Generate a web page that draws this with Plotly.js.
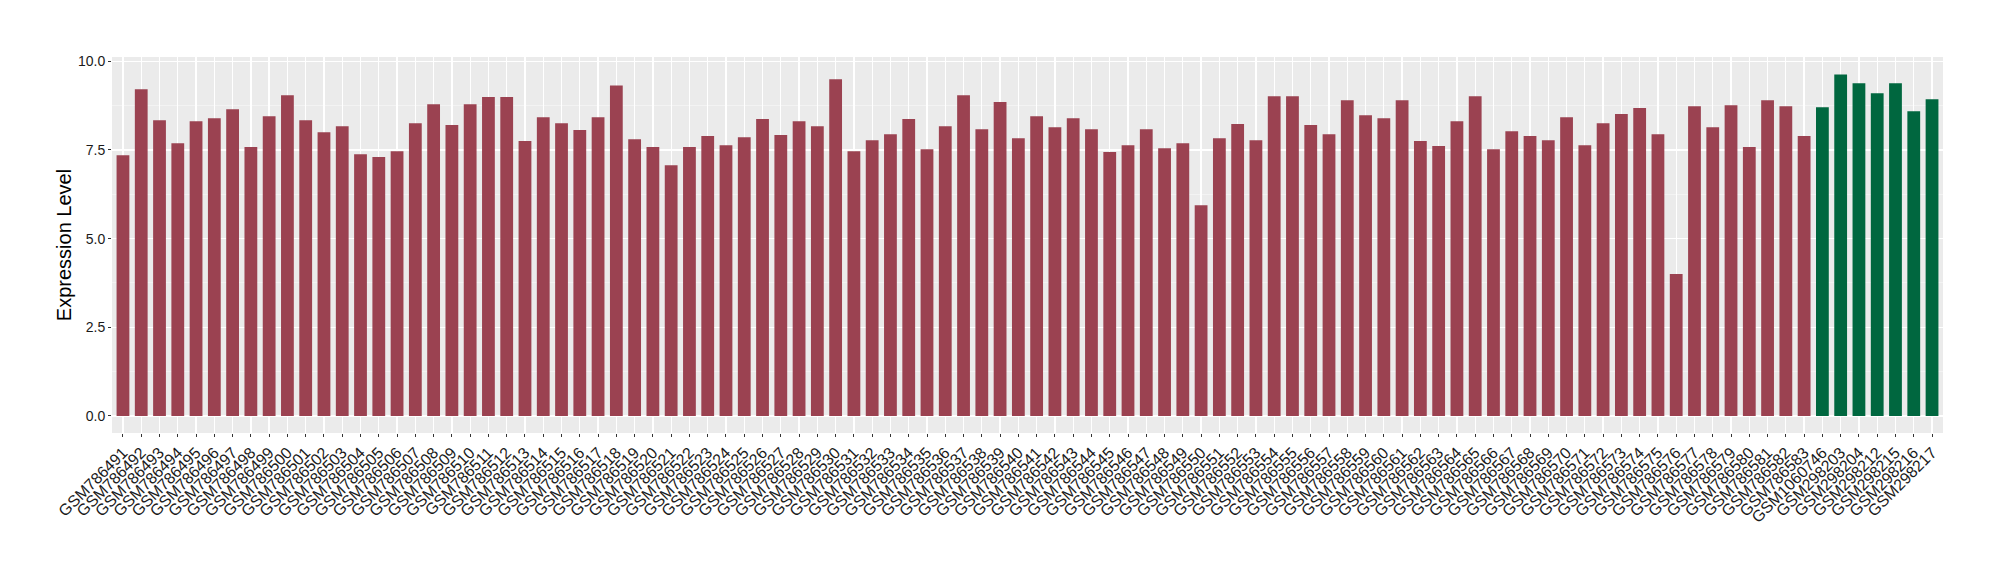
<!DOCTYPE html>
<html>
<head>
<meta charset="utf-8">
<script src="https://cdn.plot.ly/plotly-3.0.1.min.js"></script>
<style>html,body{margin:0;padding:0;background:#fff;}#chart{width:2000px;height:580px;}</style>
</head>
<body>
<div id="chart"></div>
<script>
const samples = [
  "GSM786491","GSM786492","GSM786493","GSM786494","GSM786495","GSM786496","GSM786497","GSM786498","GSM786499","GSM786500",
  "GSM786501","GSM786502","GSM786503","GSM786504","GSM786505","GSM786506","GSM786507","GSM786508","GSM786509","GSM786510",
  "GSM786511","GSM786512","GSM786513","GSM786514","GSM786515","GSM786516","GSM786517","GSM786518","GSM786519","GSM786520",
  "GSM786521","GSM786522","GSM786523","GSM786524","GSM786525","GSM786526","GSM786527","GSM786528","GSM786529","GSM786530",
  "GSM786531","GSM786532","GSM786533","GSM786534","GSM786535","GSM786536","GSM786537","GSM786538","GSM786539","GSM786540",
  "GSM786541","GSM786542","GSM786543","GSM786544","GSM786545","GSM786546","GSM786547","GSM786548","GSM786549","GSM786550",
  "GSM786551","GSM786552","GSM786553","GSM786554","GSM786555","GSM786556","GSM786557","GSM786558","GSM786559","GSM786560",
  "GSM786561","GSM786562","GSM786563","GSM786564","GSM786565","GSM786566","GSM786567","GSM786568","GSM786569","GSM786570",
  "GSM786571","GSM786572","GSM786573","GSM786574","GSM786575","GSM786576","GSM786577","GSM786578","GSM786579","GSM786580",
  "GSM786581","GSM786582","GSM786583",
  "GSM1060746","GSM298203","GSM298204","GSM298212","GSM298215","GSM298216","GSM298217"
];
const expression = [
  7.35, 9.21, 8.34, 7.69, 8.31, 8.39, 8.65, 7.58, 8.45, 9.04,
  8.34, 8.00, 8.17, 7.38, 7.30, 7.46, 8.25, 8.79, 8.20, 8.79,
  8.99, 8.99, 7.75, 8.42, 8.25, 8.06, 8.42, 9.32, 7.80, 7.58,
  7.07, 7.58, 7.89, 7.63, 7.86, 8.37, 7.92, 8.31, 8.17, 9.49,
  7.46, 7.77, 7.94, 8.37, 7.52, 8.17, 9.04, 8.08, 8.85, 7.83,
  8.45, 8.14, 8.39, 8.08, 7.44, 7.63, 8.08, 7.55, 7.69, 5.94,
  7.83, 8.23, 7.77, 9.01, 9.01, 8.20, 7.94, 8.90, 8.48, 8.39,
  8.90, 7.75, 7.61, 8.31, 9.01, 7.52, 8.03, 7.89, 7.77, 8.42,
  7.63, 8.25, 8.51, 8.68, 7.94, 4.00, 8.73, 8.14, 8.76, 7.58,
  8.90, 8.73, 7.89,
  8.70, 9.63, 9.38, 9.10, 9.38, 8.59, 8.93
];
const groups = samples.map((s, i) => i < 93 ? "A" : "B");
const groupColors = {A: "#9B4251", B: "#00673F"};
const yTicks = [0, 2.5, 5, 7.5, 10];
const yTickLabels = ["0.0", "2.5", "5.0", "7.5", "10.0"];

const trace = {
  type: "bar",
  x: samples,
  y: expression,
  marker: {color: groups.map(g => groupColors[g]), line: {width: 0}},
  hoverinfo: "x+y",
  showlegend: false
};

const layout = {
  width: 2000,
  height: 580,
  margin: {l: 112, r: 57, t: 57, b: 147, pad: 0},
  paper_bgcolor: "#ffffff",
  plot_bgcolor: "#EBEBEB",
  bargap: 0.3,
  font: {family: "Liberation Sans, Arial, sans-serif", color: "#1a1a1a", size: 14},
  xaxis: {
    type: "category",
    range: [-0.6, samples.length - 0.4],
    tickmode: "array",
    tickvals: samples,
    ticktext: samples,
    tickangle: -45,
    ticks: "outside",
    ticklen: 3,
    tickwidth: 1,
    tickcolor: "#333333",
    showgrid: true,
    gridcolor: "#ffffff",
    gridwidth: 1.3,
    zeroline: false,
    showline: false,
    tickfont: {size: 16, color: "#1a1a1a"},
    automargin: false
  },
  yaxis: {
    range: [-0.48, 10.12],
    tickvals: yTicks,
    ticktext: yTickLabels,
    ticks: "outside",
    ticklen: 3,
    tickwidth: 1,
    tickcolor: "#333333",
    showgrid: true,
    gridcolor: "#ffffff",
    gridwidth: 1.3,
    zeroline: false,
    showline: false,
    tickfont: {size: 14, color: "#1a1a1a"},
    minor: {tickvals: [1.25, 3.75, 6.25, 8.75], showgrid: true, gridcolor: "#F6F6F6", gridwidth: 0.7, ticks: ""},
    title: {text: "Expression Level", font: {size: 20, color: "#000000"}, standoff: 0},
    automargin: false
  }
};

Plotly.newPlot("chart", [trace], layout, {displayModeBar: false, staticPlot: true});
</script>
</body>
</html>
